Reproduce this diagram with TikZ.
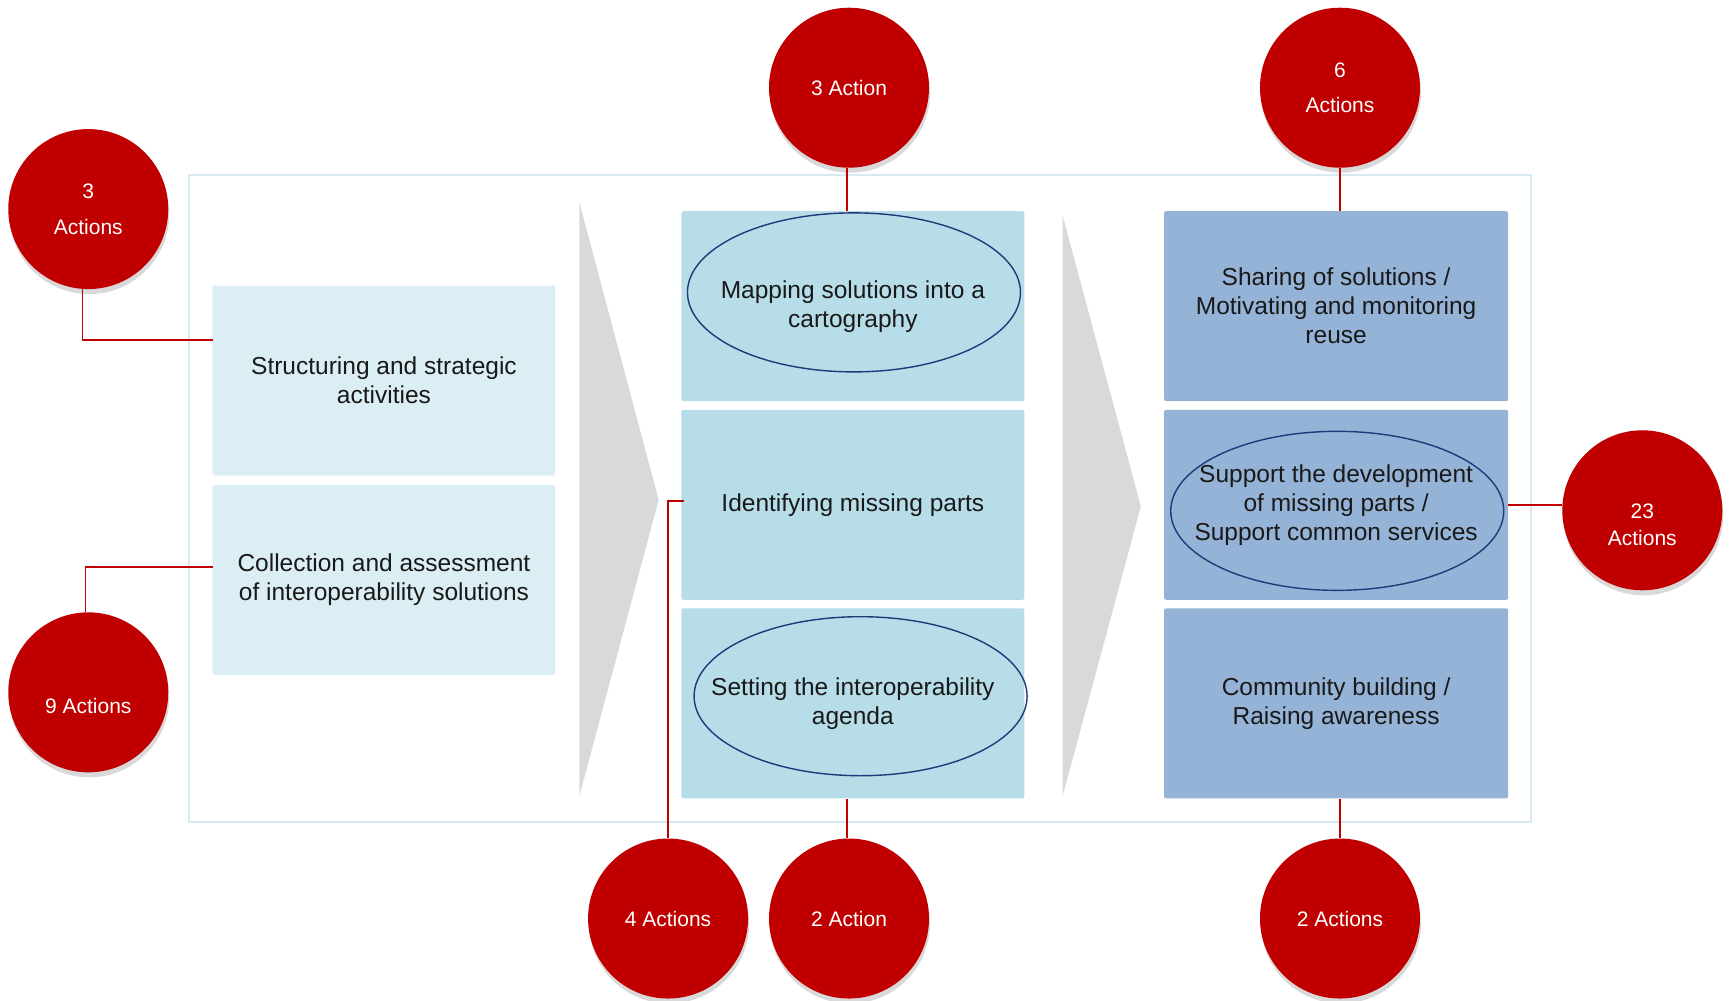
\documentclass[tikz,border=0pt]{standalone}
\usepackage{fontspec}
\setmainfont{Liberation Sans}
\usepackage{tikz}
\usetikzlibrary{shapes,shadows}
\definecolor{pale}{HTML}{DBEEF4}
\definecolor{aqua}{HTML}{B7DDE8}
\definecolor{steel}{HTML}{95B3D7}
\definecolor{chev}{HTML}{D9D9D9}
\definecolor{crimson}{HTML}{C00000}
\definecolor{navy}{HTML}{1F3A7A}
\definecolor{rim}{HTML}{D6EBF1}

\tikzset{
  stage/.style={rectangle, rounded corners=2pt, minimum width=343pt, minimum height=190pt, inner sep=0pt,
    align=center, text=black!90, font=\fontsize{24.5}{29}\selectfont},
  ring/.style={ellipse, draw=navy, line width=1.4pt, minimum width=333pt, minimum height=159pt, inner sep=0pt},
  count/.style={circle, fill=crimson, minimum size=160pt, inner sep=0pt, align=center, text=white,
    font=\fontsize{21}{26.5}\selectfont, drop shadow={opacity=0.3, shadow xshift=1pt, shadow yshift=-5pt}},
  link/.style={crimson, line width=1.5pt}
}

\begin{document}
\begin{tikzpicture}[x=1.1033pt, y=-1.1033pt]
      \useasboundingbox (0,0) rectangle (1568,907);
      \draw[rim, line width=2pt] (171,159) rectangle (1388,745);
      \fill[chev] (525,183) -- (597,453) -- (525,722) -- cycle;
      \fill[chev] (963,195) -- (1034,459) -- (963,722) -- cycle;

      \node[stage, fill=pale] (s1) at (348,345) {Structuring and strategic\\activities};
      \node[stage, fill=pale] (s2) at (348,525.5) {Collection and assessment\\of interoperability solutions};
      \node[stage, fill=aqua] (m1) at (773,277.5) {Mapping solutions into a\\cartography};
      \node[stage, fill=aqua] (m2) at (773,457.5) {Identifying missing parts};
      \node[stage, fill=aqua] (m3) at (773,637.5) {Setting the interoperability\\agenda};
      \node[stage, fill=steel, minimum width=344pt] (r1) at (1211,277.5) {Sharing of solutions /\\Motivating and monitoring\\reuse};
      \node[stage, fill=steel, minimum width=344pt] (r2) at (1211,457.5) {Support the development\\of missing parts /\\Support common services};
      \node[stage, fill=steel, minimum width=344pt] (r3) at (1211,637.5) {Community building /\\Raising awareness};

      \node[ring] (e1) at (774,265) {};
      \node[ring] (e3) at (780,631) {};
      \node[ring] (e2) at (1212,463) {};

      \node[count] (c1) at (80,189.5) {3\\[9pt]Actions};
      \node[count, text height=42pt] (c2) at (80,627.5) {9 Actions};
      \node[count] (c3) at (769.5,79.5) {3 Action};
      \node[count] (c4) at (1214.5,79.5) {6\\[9pt]Actions};
      \node[count, text height=70pt] (c5) at (1488.5,462.5) {23\\Actions};
      \node[count] (c6) at (605.5,832.5) {4 Actions};
      \node[count] (c7) at (769.5,832.5) {2 Action};
      \node[count] (c8) at (1214.5,832.5) {2 Actions};

      \coordinate (k1) at (193,308);
      \coordinate (k2) at (193,514);
      \coordinate (k6) at (620,454);
      \draw[link] (k1) -| ([xshift=-6pt]c1.south);
      \draw[link] (k2) -| ([xshift=-3pt]c2.north);
      \draw[link] ([xshift=-2pt]c3.south) -- ([xshift=-2pt]c3.south |- m1.north);
      \draw[link] (c4.south) -- (c4.south |- r1.north);
      \draw[link] (r2.east) -- (r2.east -| c5.west);
      \draw[link] (k6) -| (c6.north);
      \draw[link] ([xshift=-2pt]c7.north) -- ([xshift=-2pt]c7.north |- m3.south);
      \draw[link] (c8.north) -- (c8.north |- r3.south);
   \end{tikzpicture}
\end{document}
